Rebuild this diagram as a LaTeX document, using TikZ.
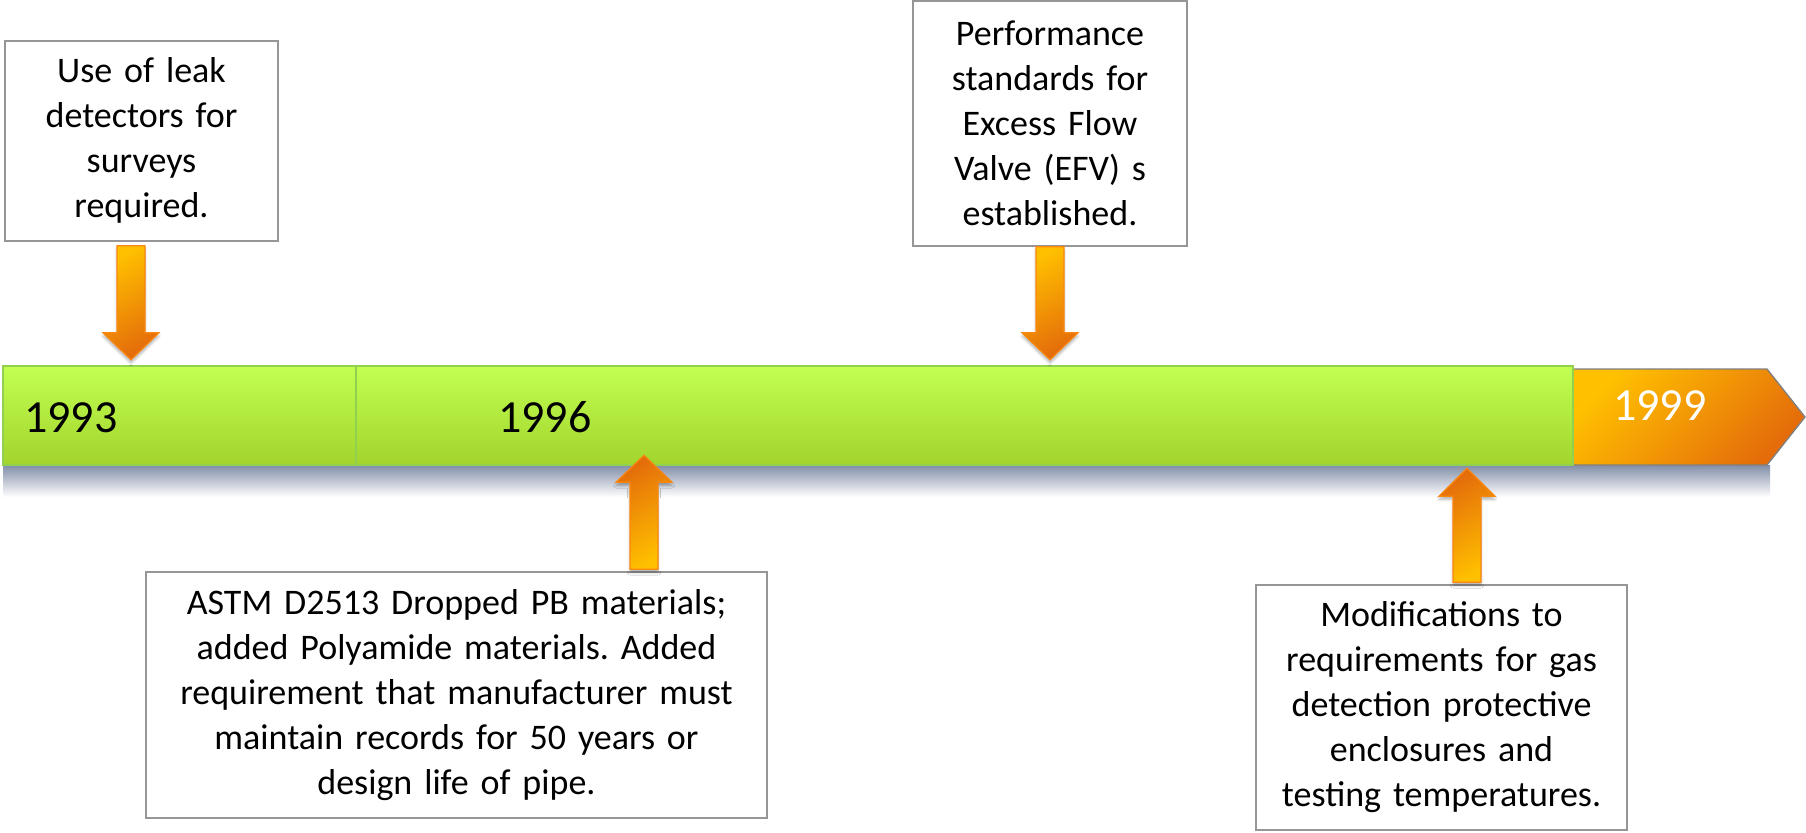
\documentclass[tikz,border=0pt]{standalone}
\usepackage{fontspec}
\setmainfont{Carlito}
\usetikzlibrary{calc,shadows.blur}

\definecolor{barTop}{RGB}{194,255,80}
\definecolor{barBot}{RGB}{162,212,45}
\definecolor{barEdge}{RGB}{146,208,80}
\definecolor{arrYel}{RGB}{255,192,0}
\definecolor{arrOra}{RGB}{228,108,10}
\definecolor{arrEdge}{RGB}{250,135,15}
\definecolor{boxGray}{RGB}{150,150,150}
\definecolor{shadowBlue}{RGB}{130,143,168}

\newcommand{\eventfont}{\fontsize{27}{33.75}\selectfont\frenchspacing\spaceskip=0.33em plus 0.1em\relax}

\tikzset{
  eventbox/.style={draw=boxGray, line width=1.2pt, fill=white, align=center, inner sep=0pt, font=\eventfont},
  barseg/.style={draw=barEdge, line width=1.5pt, top color=barTop, bottom color=barBot, inner sep=0pt, minimum height=74.25pt},
  yearlab/.style={inner sep=0pt, font=\fontsize{34.5}{40}\selectfont},
  blockarr/.style={draw=arrEdge, line width=0.9pt, top color=arrYel, bottom color=arrOra, shading angle=30,
    blur shadow={shadow xshift=0pt, shadow yshift=-2.5pt, shadow blur steps=6, shadow opacity=30}},
}

\begin{document}
\begin{tikzpicture}[x=0.75pt,y=0.75pt,yscale=-1,xscale=1]
        \useasboundingbox (0,0) rectangle (1806,832);

        %Shape: Shadow under the bar
        \fill [top color=shadowBlue, bottom color=white] (3,465) rectangle (1770,497);

        %Shape: End arrow 1999
        \draw [draw=gray, line width=1pt, top color=arrYel, bottom color=arrOra, shading angle=45] (1573,369) -- (1767,369) -- (1805,417) -- (1767,465) -- (1573,465) -- cycle;

        %Shape: Bar segments
        \node [barseg, minimum width=264.75pt] (seg93) at (179.5,415.5) {};
        \node [barseg, minimum width=912.75pt] (seg96) at (964.5,415.5) {};

        % Text Node
        \node [yearlab, anchor=base west] (lab93) at (24,432) {1993};
        % Text Node
        \node [yearlab, anchor=base west] (lab96) at (498,432) {1996};
        % Text Node
        \node [yearlab, anchor=base west, text=white] (lab99) at (1613,420) {1999};

        % Text Node
        \node [eventbox, minimum width=204.75pt, minimum height=150pt] (leak) at (141.5,140.7) {Use of leak\\detectors for\\surveys\\required.};
        % Text Node
        \node [eventbox, minimum width=205.5pt, minimum height=183.75pt] (efv) at (1050,123.5) {Performance\\standards for\\Excess Flow\\Valve (EFV) s\\established.};
        % Text Node
        \node [eventbox, minimum width=465.75pt, minimum height=184.5pt] (astm) at (456.5,695) {ASTM D2513 Dropped PB materials;\\added Polyamide materials. Added\\requirement that manufacturer must\\maintain records for 50 years or\\design life of pipe.};
        % Text Node
        \node [eventbox, minimum width=278.25pt, minimum height=183.75pt] (modif) at (1441.5,707.5) {Modifications to\\requirements for gas\\detection protective\\enclosures and\\testing temperatures.};

        %Shape: Down Arrow
        \draw [blockarr, shift={($(leak.south)+(-10.5,4.3)$)}] (-14,0) -- (14,0) -- (14,87) -- (28,87) -- (0,114) -- (-28,87) -- (-14,87) -- cycle;
        %Shape: Down Arrow
        \draw [blockarr, shift={(efv.south)}] (-14,0) -- (14,0) -- (14,86) -- (28,86) -- (0,113) -- (-28,86) -- (-14,86) -- cycle;
        %Shape: Up Arrow
        \draw [blockarr, shading angle=210, shift={($(astm.north)+(187.5,-2)$)}] (-14,0) -- (14,0) -- (14,-87) -- (28,-87) -- (0,-114) -- (-28,-87) -- (-14,-87) -- cycle;
        %Shape: Up Arrow
        \draw [blockarr, shading angle=210, shift={($(modif.north)+(25.5,-2)$)}] (-14,0) -- (14,0) -- (14,-86) -- (28,-86) -- (0,-114) -- (-28,-86) -- (-14,-86) -- cycle;

\end{tikzpicture}
\end{document}
